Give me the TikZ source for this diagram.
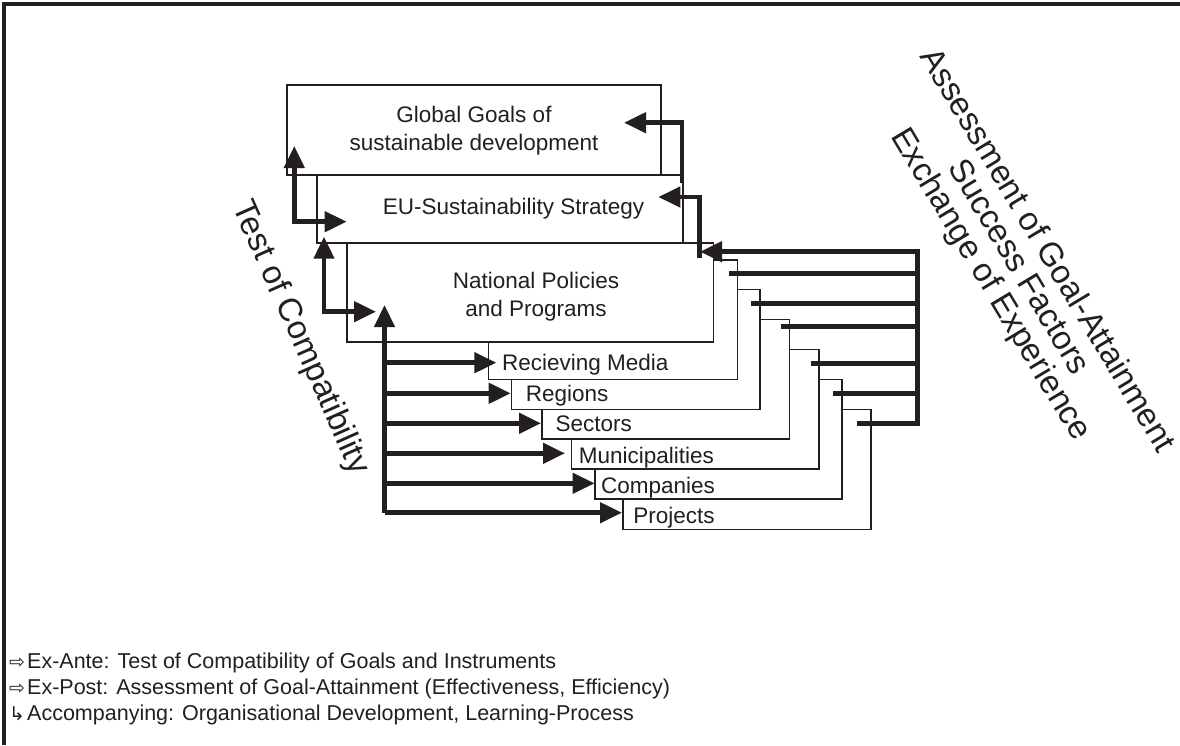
\documentclass[tikz,border=0pt]{standalone}
\usepackage{fontspec}
\setmainfont{Liberation Sans}
\newfontfamily\symfont{DejaVu Sans}
\usetikzlibrary{arrows.meta}
\definecolor{ink}{HTML}{231F20}
\begin{document}
\begin{tikzpicture}[x=1pt,y=-1pt,
  box/.style={draw=ink, line width=1.6pt, fill=white, inner sep=0pt, outer sep=0pt, anchor=north west},
  head/.tip={Triangle[length=22pt,width=20pt]},
  flow/.style={draw=ink, line width=4.5pt, -head},
  both/.style={draw=ink, line width=4.5pt, head-head},
  bar/.style={draw=ink, line width=4.5pt},
  boxtext/.style={font=\fontsize{22.5}{28}\selectfont, align=center, inner sep=0pt, text=ink},
  stagetext/.style={font=\fontsize{22.5}{28}\selectfont, inner sep=0pt, anchor=base west, text=ink},
  sidetext/.style={font=\fontsize{33}{33}\selectfont, align=center, inner sep=0pt, text=ink},
  legend/.style={font=\fontsize{21.5}{24}\selectfont, inner sep=0pt, anchor=base west, text=ink},
  legsym/.style={font=\symfont\fontsize{19}{19}\selectfont, inner sep=0pt, anchor=base west, text=ink},
]
\useasboundingbox (0,0) rectangle (1180,745);

% outer frame (runs off the right and bottom edges)
\draw[ink, line width=3.5pt] (4,745) -- (4,4) -- (1180,4);

% stacked levels, drawn from the back to the front
\node[box, minimum width=248pt,   minimum height=120pt]   (pro) at (623.2,409.3) {};
\node[box, minimum width=246.8pt, minimum height=119.7pt] (com) at (595,379.3) {};
\node[box, minimum width=247.8pt, minimum height=119.7pt] (mun) at (571.4,349.3) {};
\node[box, minimum width=247.5pt, minimum height=119.7pt] (sec) at (541.8,319.3) {};
\node[box, minimum width=248.4pt, minimum height=120pt]   (reg) at (511.4,289.3) {};
\node[box, minimum width=249pt,   minimum height=119.3pt] (rec) at (488.6,260) {};
\node[box, minimum width=366.6pt, minimum height=99pt]    (nat) at (346.7,242.7) {};
\node[box, minimum width=366.3pt, minimum height=67.7pt]  (eu)  at (316.7,175) {};
\node[box, minimum width=374.3pt, minimum height=90pt]    (glob) at (286.7,85) {};

% box labels
\node[boxtext] (globtxt) at (474,131) {Global Goals of\\sustainable development};
\node[boxtext] (eutxt) at (513.5,209) {EU-Sustainability Strategy};
\node[boxtext] (nattxt) at (536,297) {National Policies\\and Programs};
\node[stagetext] (rectxt) at (501.8,370) {Recieving Media};
\node[stagetext] (regtxt) at (525.7,401.7) {Regions};
\node[stagetext] (sectxt) at (555.4,431) {Sectors};
\node[stagetext] (muntxt) at (578.6,463.3) {Municipalities};
\node[stagetext] (comtxt) at (601,493.3) {Companies};
\node[stagetext] (protxt) at (633.2,523.3) {Projects};

% test of compatibility: two-way links between the upper levels
\coordinate (a1) at (294.3,146);   \coordinate (a2) at (346.7,221.7);
\coordinate (b1) at (324,236.7);   \coordinate (b2) at (376,311.7);
\draw[both] (a1) |- (a2);
\draw[both] (b1) |- (b2);

% distribution trunk from the national level down to every stage
\coordinate (ctop) at (384.5,305);
\coordinate (cbot) at (384.5,512.7);
\draw[flow] (cbot) -- (ctop);
\foreach \n/\y/\tx in {1/362.7/496.4, 2/393.3/510.7, 3/423.3/541, 4/453.3/565, 5/483.3/594.6, 6/512.7/622}{
  \coordinate (cs\n) at (384.5,\y);
  \coordinate (ct\n) at (\tx,\y);
  \draw[flow] (cs\n) -- (ct\n);
}

% feedback collector on the right
\coordinate (bustop) at (917.3,249.45);
\coordinate (busbot) at (917.3,425.55);
\draw[bar] (bustop) -- (busbot);
\coordinate (f0s) at (917.3,251.7);  \coordinate (f0t) at (700,251.7);
\draw[flow] (f0s) -- (f0t);
\foreach \n/\y/\lx in {1/273.3/729.3, 2/303.3/751, 3/326.7/781, 4/363.3/811, 5/393.3/833.3, 6/423.3/856.7}{
  \coordinate (fs\n) at (917.3,\y);
  \coordinate (ft\n) at (\lx,\y);
  \draw[bar] (fs\n) -- (ft\n);
}

% feedback passed upwards
\coordinate (e1) at (699.5,258.3); \coordinate (e2) at (658.3,197);
\coordinate (d1) at (682,183);     \coordinate (d2) at (624,122.7);
\draw[flow] (e1) |- (e2);
\draw[flow] (d1) |- (d2);

% rotated side labels
\node[sidetext, rotate=-66] (testlbl) at (300,338) {Test of Compatibility};
\node[sidetext, rotate=-59] (assesslbl) at (1018,268)
  {Assessment of Goal-Attainment\\Success Factors\\Exchange of Experience};

% legend
\node[legsym] (sym1) at (9,668) {⇨};
\node[legend] (leg1) at (27,668) {Ex-Ante: Test of Compatibility of Goals and Instruments};
\node[legsym] (sym2) at (9,694) {⇨};
\node[legend] (leg2) at (27,694) {Ex-Post: Assessment of Goal-Attainment (Effectiveness, Efficiency)};
\node[legsym] (sym3) at (9,720) {↳};
\node[legend] (leg3) at (27,720) {Accompanying: Organisational Development, Learning-Process};
\end{tikzpicture}
\end{document}
